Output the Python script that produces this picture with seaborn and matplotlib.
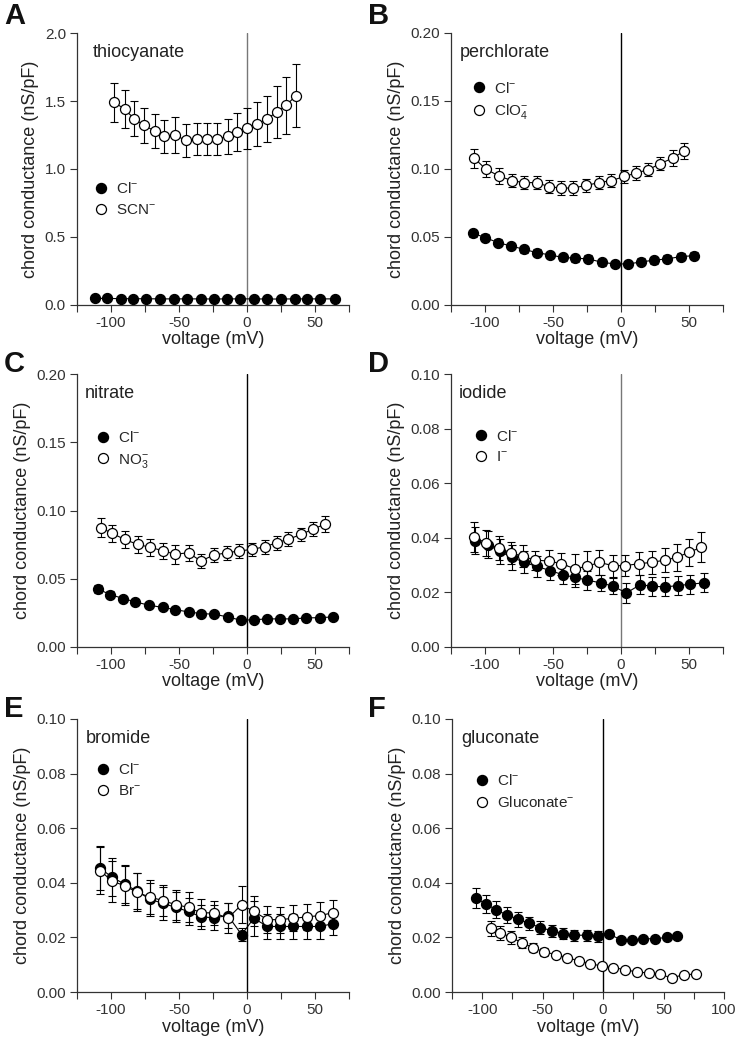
import numpy as np
import matplotlib
matplotlib.use("Agg")
import matplotlib.pyplot as plt
import seaborn as sns
from matplotlib.lines import Line2D

sns.set_style("ticks")
plt.rcParams['font.family'] = ['Liberation Sans', 'DejaVu Sans']
plt.rcParams['mathtext.fontset'] = 'custom'
plt.rcParams['mathtext.rm'] = 'Liberation Sans'
plt.rcParams['mathtext.it'] = 'Liberation Sans'

# A - thiocyanate
a_cl_v = [-112, -103, -93, -84, -74, -64, -54, -44, -34, -24, -15, -5, 5, 15, 25, 35, 44, 54, 65]
a_cl_g = [0.049, 0.048, 0.047, 0.046, 0.046, 0.045, 0.045, 0.045, 0.045, 0.044, 0.045, 0.045,
          0.045, 0.044, 0.044, 0.045, 0.045, 0.045, 0.045]
a_cl_err = [0.004] * 19
a_scn_v = [-97.5, -90, -83, -75.5, -68, -61, -53, -45, -37, -29.5, -22, -14, -7, 0, 7.5, 15, 22, 29, 36]
a_scn_g = [1.49, 1.44, 1.37, 1.32, 1.28, 1.24, 1.25, 1.21, 1.22, 1.22, 1.22, 1.24, 1.27, 1.30,
           1.33, 1.37, 1.42, 1.47, 1.54]
a_scn_err = [0.145, 0.14, 0.13, 0.13, 0.125, 0.12, 0.13, 0.12, 0.12, 0.12, 0.12, 0.13, 0.14, 0.15,
             0.16, 0.17, 0.19, 0.21, 0.23]

# B - perchlorate
b_cl_v = [-109, -100, -90.5, -81, -71.5, -62, -52, -43, -33.5, -24, -14, -4.5, 5.5, 15, 24.5, 34, 44, 54]
b_cl_g = [0.0528, 0.0496, 0.0459, 0.0434, 0.041, 0.0385, 0.0368, 0.035, 0.0344, 0.0339, 0.0314,
          0.0302, 0.0302, 0.0317, 0.033, 0.0339, 0.0356, 0.0363]
b_cl_err = [0.0025] * 18
b_x_v = [-108, -99.5, -90, -80.5, -71.5, -62, -53, -44, -35, -25.5, -16, -7, 2.5, 11, 20, 29, 38, 46]
b_x_g = [0.108, 0.100, 0.095, 0.0915, 0.090, 0.090, 0.087, 0.086, 0.086, 0.088, 0.090, 0.0915,
         0.0945, 0.097, 0.0995, 0.104, 0.108, 0.113]
b_x_err = [0.007, 0.006, 0.006, 0.005, 0.005, 0.005, 0.005, 0.005, 0.005, 0.005, 0.005, 0.005,
           0.005, 0.005, 0.005, 0.005, 0.006, 0.006]

# C - nitrate
c_cl_v = [-109.5, -100.5, -91, -82, -72, -62, -53, -43, -34, -24, -14, -4.5, 5.5, 15, 24.5, 34, 43.5, 53.5, 63]
c_cl_g = [0.0424, 0.0384, 0.0355, 0.033, 0.0306, 0.029, 0.0274, 0.0257, 0.0245, 0.024, 0.022,
          0.0196, 0.020, 0.0206, 0.0206, 0.0206, 0.0213, 0.0215, 0.022]
c_cl_err = [0.0028, 0.0025, 0.0022, 0.002, 0.0018, 0.0015, 0.0013, 0.0012, 0.001, 0.001, 0.001,
            0.001, 0.001, 0.001, 0.001, 0.001, 0.001, 0.001, 0.001]
c_x_v = [-107.5, -99, -90, -80.5, -71, -62, -53, -43, -34, -24.5, -15, -6, 3.5, 13, 22, 30.5, 40, 48.5, 57.5]
c_x_g = [0.0874, 0.0832, 0.0788, 0.0752, 0.073, 0.0705, 0.068, 0.069, 0.063, 0.0673, 0.069,
         0.0703, 0.0715, 0.0734, 0.0764, 0.079, 0.0825, 0.0864, 0.090]
c_x_err = [0.007, 0.006, 0.006, 0.006, 0.006, 0.006, 0.007, 0.006, 0.005, 0.005, 0.005, 0.005,
           0.005, 0.005, 0.005, 0.005, 0.005, 0.005, 0.006]

# D - iodide
d_cl_v = [-107, -98, -89, -80, -71, -62, -52, -43, -34, -25, -15, -6, 4, 14, 23, 32, 42, 51, 61]
d_cl_g = [0.039, 0.0375, 0.035, 0.0328, 0.031, 0.0295, 0.028, 0.0265, 0.0255, 0.0245, 0.0235,
          0.0223, 0.0198, 0.0228, 0.0223, 0.022, 0.0225, 0.023, 0.0235]
d_cl_err = [0.005, 0.005, 0.0045, 0.0045, 0.004, 0.004, 0.0035, 0.0035, 0.0035, 0.0035, 0.003,
            0.003, 0.0035, 0.0035, 0.0035, 0.0035, 0.0035, 0.0035, 0.0035]
d_x_v = [-108, -99, -90, -81, -72, -63, -53, -44, -34, -25, -16, -6, 3, 13, 22.5, 32, 41, 50, 59]
d_x_g = [0.0403, 0.038, 0.0362, 0.0345, 0.0332, 0.0318, 0.0315, 0.0305, 0.0287, 0.0295, 0.031,
         0.0298, 0.0298, 0.0305, 0.031, 0.0318, 0.0328, 0.0347, 0.0365]
d_x_err = [0.0055, 0.0048, 0.0045, 0.004, 0.004, 0.0035, 0.004, 0.004, 0.0055, 0.0055, 0.0045,
           0.004, 0.0038, 0.0042, 0.0042, 0.0045, 0.0048, 0.005, 0.0055]

# E - bromide
e_cl_v = [-108, -99, -90, -81, -71.5, -62, -52.5, -43, -34, -24, -14, -4, 5, 15, 24.5, 34, 44, 53.5, 63]
e_cl_g = [0.0453, 0.042, 0.0395, 0.037, 0.034, 0.0325, 0.031, 0.0295, 0.0275, 0.0272, 0.028,
          0.021, 0.027, 0.024, 0.024, 0.024, 0.024, 0.024, 0.025]
e_cl_err = [0.008, 0.007, 0.007, 0.0065, 0.006, 0.006, 0.0055, 0.005, 0.0045, 0.0045, 0.0045,
            0.0025, 0.0065, 0.0045, 0.0045, 0.0045, 0.0045, 0.0045, 0.0042]
e_x_v = [-108, -99, -90, -81, -71.5, -62, -52.5, -43, -34, -24, -14, -4, 5, 15, 24.5, 34, 44, 53.5, 63]
e_x_g = [0.0445, 0.0405, 0.039, 0.0365, 0.0348, 0.0335, 0.032, 0.031, 0.029, 0.029, 0.027,
         0.032, 0.0295, 0.0265, 0.0265, 0.027, 0.0275, 0.028, 0.029]
e_x_err = [0.0085, 0.0075, 0.007, 0.007, 0.0062, 0.0058, 0.0055, 0.0055, 0.005, 0.0045, 0.0055,
           0.0068, 0.0055, 0.005, 0.0048, 0.0048, 0.0048, 0.005, 0.0048]

# F - gluconate
f_cl_v = [-105.5, -97, -89, -79.5, -70, -61, -52, -42, -33, -24, -13.5, -4.5, 4.5, 15, 24, 33, 43, 52.5, 61.5]
f_cl_g = [0.0343, 0.0324, 0.0302, 0.0282, 0.0266, 0.0251, 0.0236, 0.0224, 0.0214, 0.0208, 0.0208,
          0.0204, 0.0214, 0.019, 0.019, 0.0195, 0.0195, 0.020, 0.0206]
f_cl_err = [0.0037, 0.0033, 0.003, 0.003, 0.0028, 0.0025, 0.0025, 0.0022, 0.002, 0.002, 0.002,
            0.002, 0.0008, 0.0008, 0.0008, 0.0008, 0.0008, 0.0008, 0.0008]
f_x_v = [-93, -85, -76, -67, -58, -49, -39, -30, -20, -11, -1, 8.5, 18, 28, 38, 47, 57, 66.5, 77]
f_x_g = [0.0233, 0.0217, 0.020, 0.018, 0.0163, 0.0147, 0.0137, 0.0126, 0.0114, 0.0104, 0.0095,
         0.0089, 0.0082, 0.0073, 0.007, 0.0065, 0.0051, 0.0064, 0.0065]
f_x_err = [0.0027, 0.0025, 0.0025, 0.002, 0.0016, 0.0014, 0.001, 0.0008, 0.0006, 0.0006, 0.0006,
           0.0005, 0.0005, 0.0005, 0.0005, 0.0005, 0.0005, 0.0005, 0.0005]

panels = [
    dict(letter='A', name='thiocyanate', ion=r'SCN$^{-}$', ymax=2.0, ystep=0.5, yfmt='{:.1f}', xmax=75,
         cl=(a_cl_v, a_cl_g, a_cl_err), x=(a_scn_v, a_scn_g, a_scn_err), leg=(0.065, 0.455),
         tx=0.058, vcol='#777777'),
    dict(letter='B', name='perchlorate', ion=r'ClO$_4^{-}$', ymax=0.20, ystep=0.05, yfmt='{:.2f}', xmax=75,
         cl=(b_cl_v, b_cl_g, b_cl_err), x=(b_x_v, b_x_g, b_x_err), leg=(0.08, 0.825),
         tx=0.033, vcol='black'),
    dict(letter='C', name='nitrate', ion=r'NO$_3^{-}$', ymax=0.20, ystep=0.05, yfmt='{:.2f}', xmax=75,
         cl=(c_cl_v, c_cl_g, c_cl_err), x=(c_x_v, c_x_g, c_x_err), leg=(0.073, 0.795),
         tx=0.03, vcol='black'),
    dict(letter='D', name='iodide', ion=r'I$^{-}$', ymax=0.10, ystep=0.02, yfmt='{:.2f}', xmax=75,
         cl=(d_cl_v, d_cl_g, d_cl_err), x=(d_x_v, d_x_g, d_x_err), leg=(0.086, 0.80),
         tx=0.03, vcol='#777777'),
    dict(letter='E', name='bromide', ion=r'Br$^{-}$', ymax=0.10, ystep=0.02, yfmt='{:.2f}', xmax=75,
         cl=(e_cl_v, e_cl_g, e_cl_err), x=(e_x_v, e_x_g, e_x_err), leg=(0.073, 0.842),
         tx=0.033, vcol='black'),
    dict(letter='F', name='gluconate', ion=r'Gluconate$^{-}$', ymax=0.10, ystep=0.02, yfmt='{:.2f}', xmax=100,
         cl=(f_cl_v, f_cl_g, f_cl_err), x=(f_x_v, f_x_g, f_x_err), leg=(0.087, 0.802),
         tx=0.035, vcol='black'),
]

W, H = 737, 1042
fig = plt.figure(figsize=(W / 100, H / 100), dpi=100)

# axes boxes in pixels: left, top, width, height
boxes = [(77, 33, 272, 272), (451, 33, 272, 272),
         (77, 374, 272, 273), (451, 374, 272, 273),
         (77, 719, 272, 273), (452, 719, 272, 273)]
letter_pos = [(4, 2), (368, 2), (4, 350), (368, 350), (4, 695), (368, 695)]

dark = '#333333'


def draw(ax, v, g, err, face, z):
    ax.errorbar(v, g, yerr=err, fmt='none', ecolor='black', elinewidth=0.8,
                capsize=3, capthick=0.8, zorder=z)
    sns.lineplot(x=v, y=g, ax=ax, color='black', lw=0.8, marker='o', markersize=7.2,
                 markerfacecolor=face, markeredgecolor='black', markeredgewidth=0.9,
                 sort=False, errorbar=None, zorder=z + 1)


for p, (l, t, w, h), (lx, ly) in zip(panels, boxes, letter_pos):
    ax = fig.add_axes([l / W, 1 - (t + h) / H, w / W, h / H])
    ax.axvline(0, color=p['vcol'], lw=1.0, zorder=1)
    draw(ax, *p['cl'], 'black', 2)
    draw(ax, *p['x'], 'white', 4)

    ax.set_xlim(-125, p['xmax'])
    ax.set_ylim(0, p['ymax'])
    xt = np.arange(-125, p['xmax'] + 1, 25)
    ax.set_xticks(xt)
    ax.set_xticklabels([str(int(x)) if x % 50 == 0 else '' for x in xt])
    yt = np.arange(0, p['ymax'] + 1e-9, p['ystep'])
    ax.set_yticks(yt)
    ax.set_yticklabels([p['yfmt'].format(y) for y in yt])
    ax.tick_params(direction='out', length=5, width=0.8, labelsize=11, colors=dark, pad=3)
    for s in ['left', 'bottom']:
        ax.spines[s].set_color(dark)
        ax.spines[s].set_linewidth(0.9)
    sns.despine(ax=ax)
    ax.set_xlabel('voltage (mV)', fontsize=13, labelpad=1, color='#222222')
    ax.set_ylabel('chord conductance (nS/pF)', fontsize=13, labelpad=4, color='#222222')
    ax.text(p['tx'], 0.93, p['name'], transform=ax.transAxes, fontsize=13,
            ha='left', va='center', color='#222222')

    handles = [Line2D([], [], ls='none', marker='o', ms=7.2, mfc='black', mec='black'),
               Line2D([], [], ls='none', marker='o', ms=7.2, mfc='white', mec='black', mew=0.9)]
    ax.legend(handles, [r'Cl$^{-}$', p['ion']], loc='upper left', bbox_to_anchor=p['leg'],
              frameon=False, fontsize=11, handlelength=0.8, handletextpad=0.6,
              labelspacing=0.45, borderpad=0, borderaxespad=0)

    fig.text(lx / W, 1 - ly / H, p['letter'], fontsize=21, fontweight='bold',
             ha='left', va='top', color='#111111')

fig.savefig('out.png', dpi=100)
